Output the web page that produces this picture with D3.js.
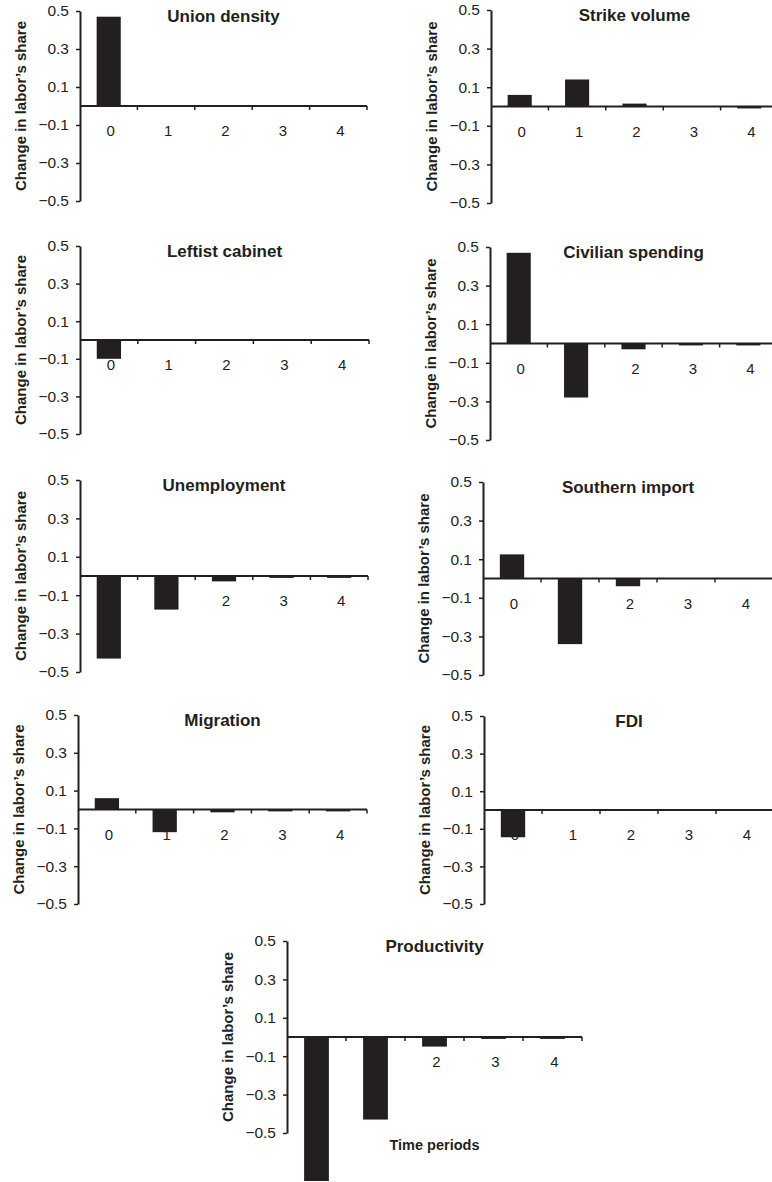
<!DOCTYPE html>
<html>
<head>
<meta charset="utf-8">
<script src="https://cdn.jsdelivr.net/npm/d3@7"></script>
<style>
  body { margin: 0; background: #fff; }
  svg { display: block; }
  text { font-family: "Liberation Sans", Arial, Helvetica, sans-serif; fill: #231f20; }
</style>
</head>
<body>
<div id="chart"></div>
<script>
// time periods on the x axis
const periods = ["0", "1", "2", "3", "4"];
const yTicks = [0.5, 0.3, 0.1, -0.1, -0.3, -0.5];

// response of labor's share, one array per shock
const unionDensity = [0.47, 0, 0, 0, 0];
const strikeVolume = [0.06, 0.14, 0.015, 0, -0.01];
const leftistCabinet = [-0.10, 0, 0, 0, 0];
const civilianSpending = [0.47, -0.28, -0.03, -0.01, -0.01];
const unemployment = [-0.43, -0.175, -0.028, -0.01, -0.01];
const southernImport = [0.125, -0.34, -0.04, 0, 0];
const migration = [0.06, -0.12, -0.015, -0.01, -0.01];
const fdi = [-0.145, 0, 0, 0, 0];
const productivity = [-0.75, -0.43, -0.05, -0.01, -0.01];

const titles = ["Union density", "Strike volume", "Leftist cabinet", "Civilian spending",
  "Unemployment", "Southern import", "Migration", "FDI", "Productivity"];
const series = [unionDensity, strikeVolume, leftistCabinet, civilianSpending,
  unemployment, southernImport, migration, fdi, productivity];

// panel placement: left edge of y axis, y of the 0.5 tick, plot height / width
const layout = [
  { x: 80, y: 11, h: 190, w: 287 },
  { x: 491, y: 10, h: 193, w: 287 },
  { x: 80, y: 246, h: 188, w: 289 },
  { x: 490, y: 247, h: 193, w: 287 },
  { x: 80, y: 480, h: 192, w: 288 },
  { x: 483, y: 482, h: 193, w: 290 },
  { x: 78, y: 715, h: 189, w: 289 },
  { x: 484, y: 716, h: 188, w: 290 },
  { x: 287, y: 941, h: 192, w: 295 }
];

const ink = "#231f20";
const width = 772, height = 1182;

const svg = d3.select("#chart")
  .append("svg")
  .attr("width", width)
  .attr("height", height);

const fmt = v => (v < 0 ? "\u2212" : "") + Math.abs(v).toFixed(1);

series.forEach((values, i) => {
  const p = layout[i];
  const g = svg.append("g").attr("transform", `translate(${p.x},${p.y})`);

  const y = d3.scaleLinear().domain([0.5, -0.5]).range([0, p.h]);
  const x = d3.scaleBand().domain(periods).range([0, p.w])
    .paddingInner(0.58).paddingOuter(0.29);
  const step = x.step();
  const zero = y(0);

  // y axis
  const yAxis = g.append("g")
    .call(d3.axisLeft(y).tickValues(yTicks).tickSize(4).tickSizeOuter(0).tickFormat(fmt));
  yAxis.attr("font-size", null).attr("font-family", null);
  yAxis.select(".domain").attr("stroke", ink).attr("stroke-width", 2);
  yAxis.selectAll(".tick line").attr("stroke", ink).attr("stroke-width", 1.5);
  yAxis.selectAll(".tick text")
    .attr("x", -11)
    .style("font-size", "15.5px")
    .attr("fill", "#333");

  // y label
  g.append("text")
    .attr("transform", `translate(-54,${p.h / 2}) rotate(-90)`)
    .attr("text-anchor", "middle")
    .style("font-size", "15px")
    .style("font-weight", "bold")
    .text("Change in labor\u2019s share");

  // title
  g.append("text")
    .attr("x", p.w / 2)
    .attr("y", 11)
    .attr("text-anchor", "middle")
    .style("font-size", "17px")
    .style("font-weight", "bold")
    .text(titles[i]);

  // period labels (drawn before bars so bars cover them)
  g.selectAll(".plabel")
    .data(periods)
    .enter()
    .append("text")
    .attr("class", "plabel")
    .attr("x", d => x(d) + x.bandwidth() / 2 + 2)
    .attr("y", zero + 30)
    .attr("text-anchor", "middle")
    .style("font-size", "15px")
    .attr("fill", "#333")
    .text(d => d);

  // zero line with ticks at band edges
  g.append("line")
    .attr("x1", 0).attr("x2", p.w)
    .attr("y1", zero).attr("y2", zero)
    .attr("stroke", ink).attr("stroke-width", 2);
  g.selectAll(".xtick")
    .data(periods)
    .enter()
    .append("line")
    .attr("x1", (d, k) => (k + 1) * step)
    .attr("x2", (d, k) => (k + 1) * step)
    .attr("y1", zero).attr("y2", zero + 4)
    .attr("stroke", ink).attr("stroke-width", 1.5);

  // bars
  g.selectAll(".bar")
    .data(values)
    .enter()
    .append("rect")
    .attr("class", "bar")
    .attr("x", (d, k) => x(periods[k]))
    .attr("width", x.bandwidth())
    .attr("y", d => Math.min(y(d), zero))
    .attr("height", d => Math.abs(y(d) - zero))
    .attr("fill", ink);

  if (i === series.length - 1) {
    g.append("text")
      .attr("x", p.w / 2)
      .attr("y", y(-0.5) + 17)
      .attr("text-anchor", "middle")
      .style("font-size", "14.5px")
      .style("font-weight", "bold")
      .text("Time periods");
  }
});
</script>
</body>
</html>
